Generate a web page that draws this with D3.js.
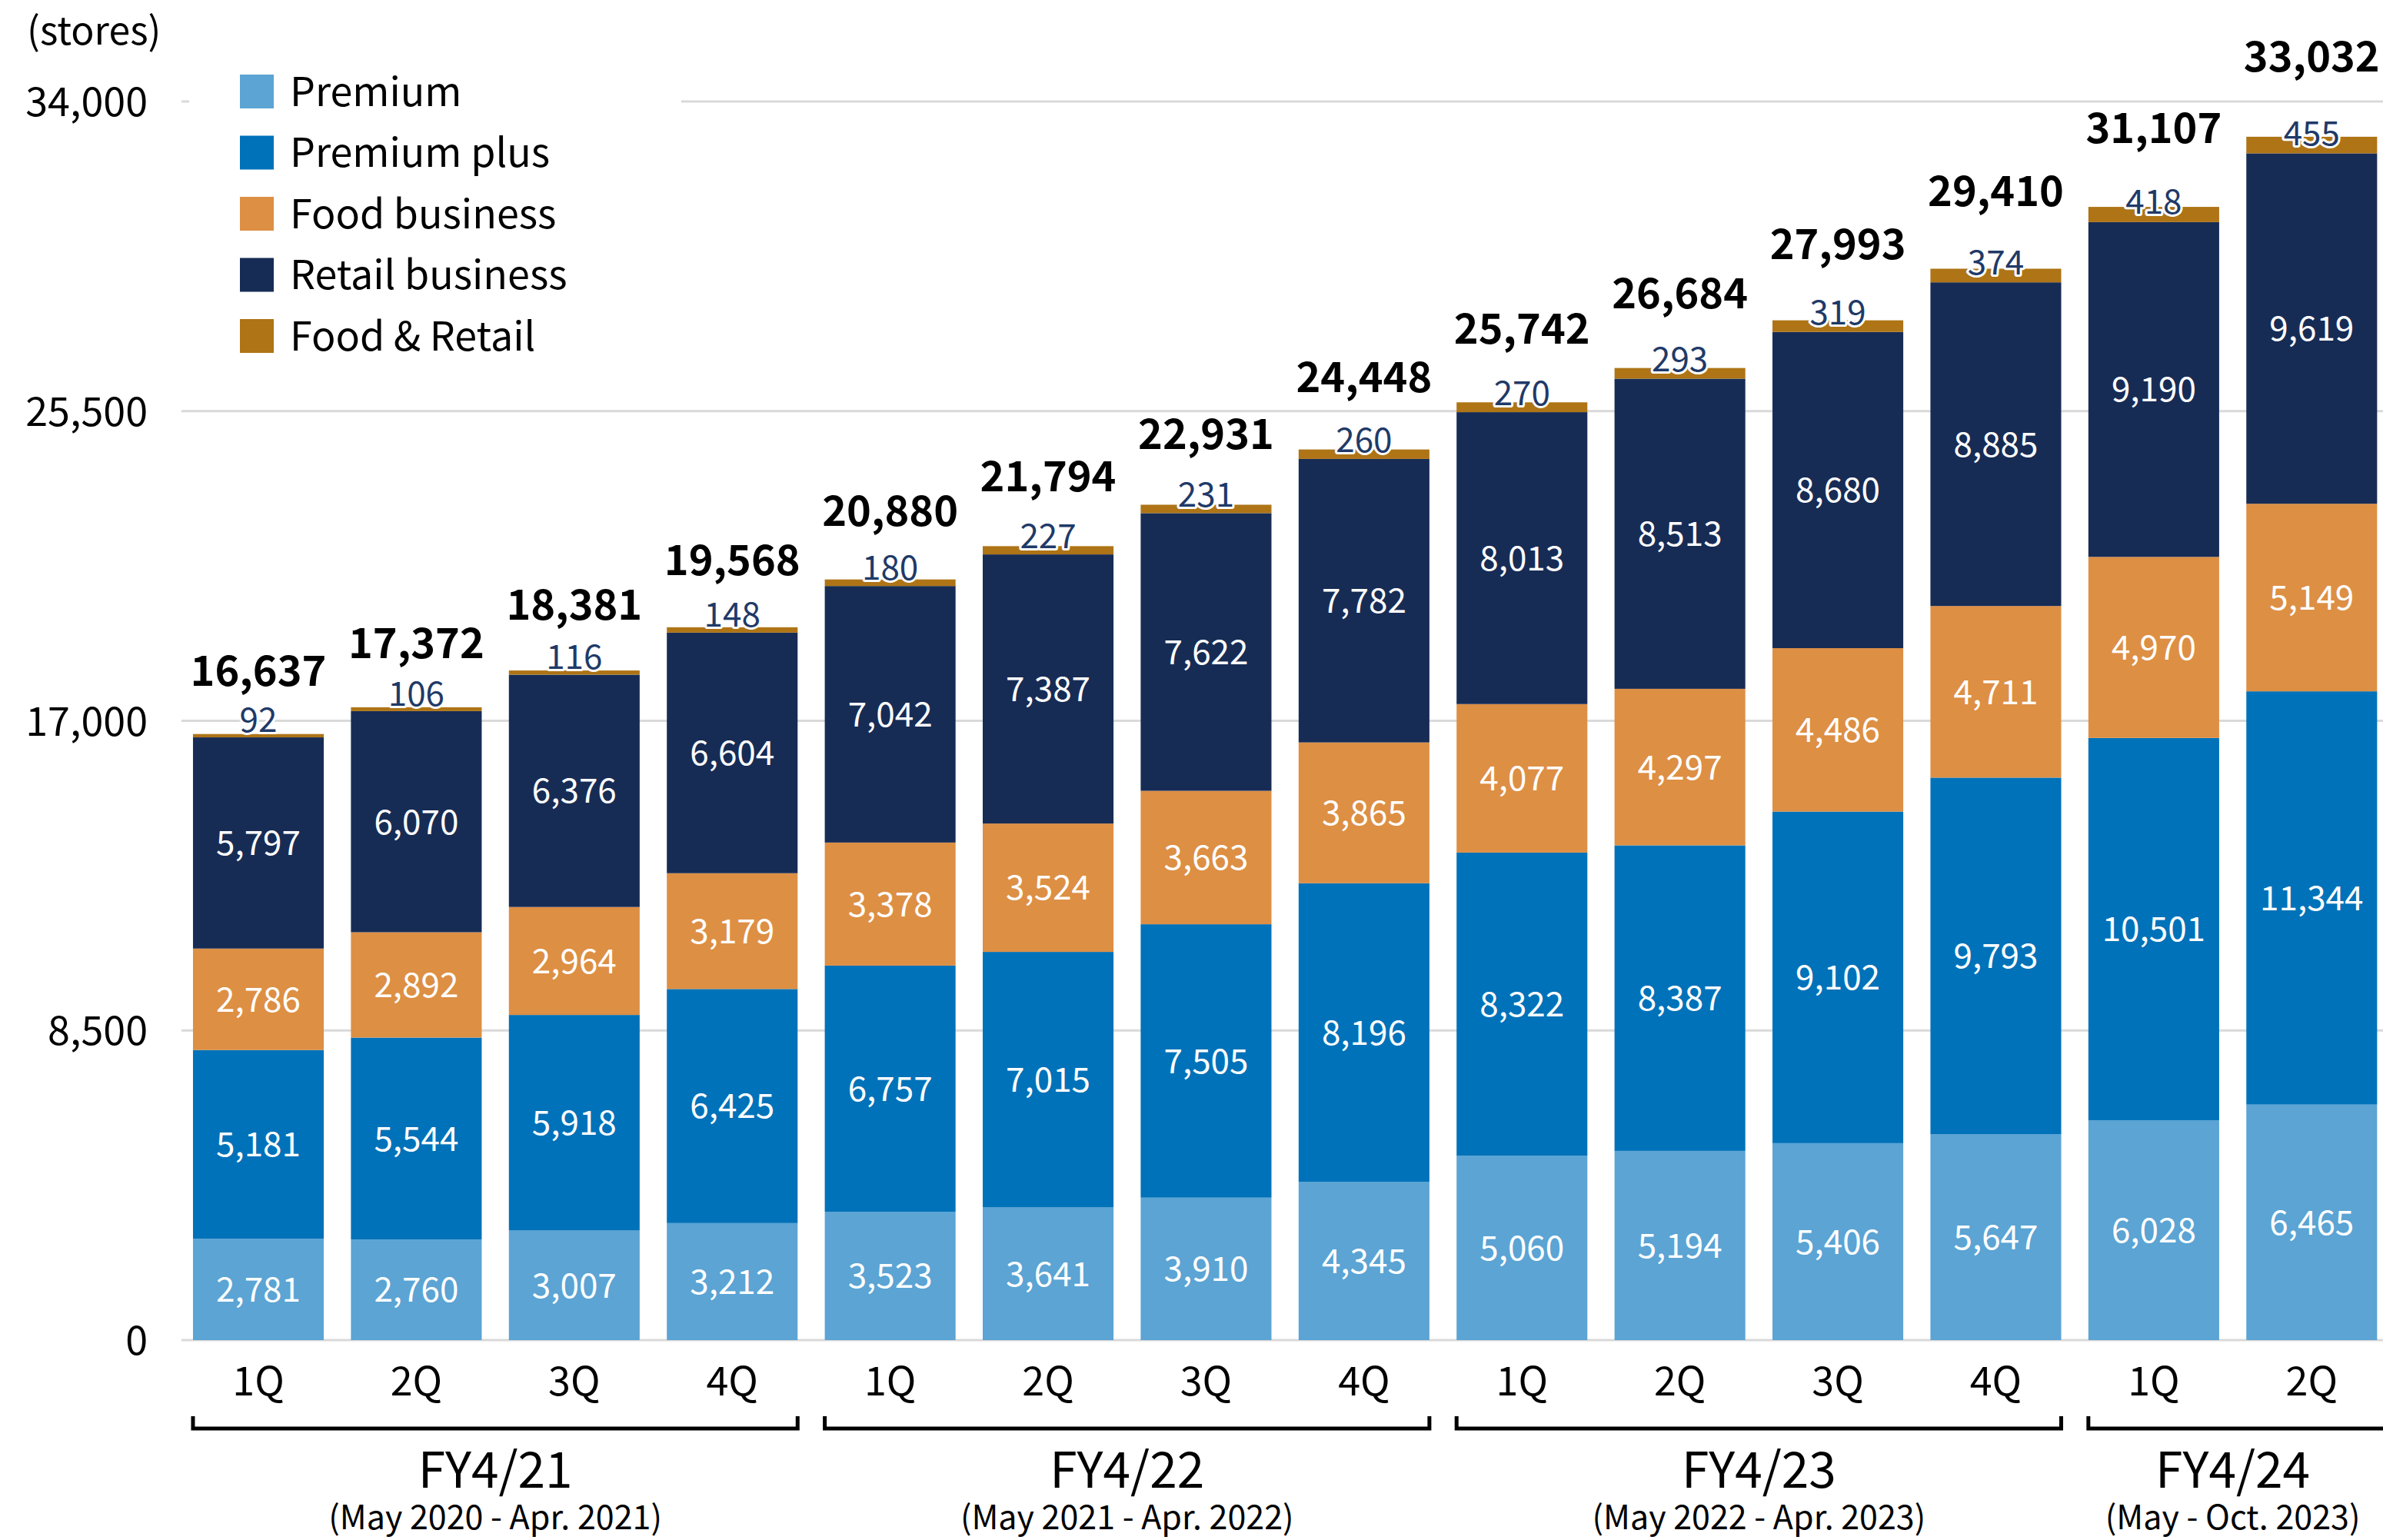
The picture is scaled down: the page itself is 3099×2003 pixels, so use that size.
<!DOCTYPE html>
<html>
<head>
<meta charset="utf-8">
<script src="https://cdn.jsdelivr.net/npm/d3@7/dist/d3.min.js"></script>
<style>
  html, body { margin: 0; padding: 0; background: #fff; }
  svg { display: block; font-family: "Noto Sans CJK JP", "Noto Sans", sans-serif; }
</style>
</head>
<body>
<svg id="chart" width="3099" height="2003"></svg>
<script>
// Store counts by quarter, stacked by membership / business type
const quarters = ["1Q","2Q","3Q","4Q","1Q","2Q","3Q","4Q","1Q","2Q","3Q","4Q","1Q","2Q"];
const premium      = [2781, 2760, 3007, 3212, 3523, 3641, 3910, 4345, 5060, 5194, 5406, 5647, 6028, 6465];
const premiumPlus  = [5181, 5544, 5918, 6425, 6757, 7015, 7505, 8196, 8322, 8387, 9102, 9793, 10501, 11344];
const foodBusiness = [2786, 2892, 2964, 3179, 3378, 3524, 3663, 3865, 4077, 4297, 4486, 4711, 4970, 5149];
const retailBusiness = [5797, 6070, 6376, 6604, 7042, 7387, 7622, 7782, 8013, 8513, 8680, 8885, 9190, 9619];
const foodAndRetail  = [92, 106, 116, 148, 180, 227, 231, 260, 270, 293, 319, 374, 418, 455];
const totals = [16637, 17372, 18381, 19568, 20880, 21794, 22931, 24448, 25742, 26684, 27993, 29410, 31107, 33032];

const seriesNames = ["Premium", "Premium plus", "Food business", "Retail business", "Food & Retail"];
const seriesValues = [premium, premiumPlus, foodBusiness, retailBusiness, foodAndRetail];
const seriesColors = ["#5ba4d4", "#0072b9", "#dd8f44", "#172c55", "#ae7416"];

const yTicks = [0, 8500, 17000, 25500, 34000];

const fiscalYears = [
  { label: "FY4/21", period: "(May 2020 - Apr. 2021)", first: 0, last: 3 },
  { label: "FY4/22", period: "(May 2021 - Apr. 2022)", first: 4, last: 7 },
  { label: "FY4/23", period: "(May 2022 - Apr. 2023)", first: 8, last: 11 },
  { label: "FY4/24", period: "(May - Oct. 2023)", first: 12, last: 13, open: true }
];

const svg = d3.select("#chart");
const W = 3099;

const rows = quarters.map((q, i) => {
  const r = { i };
  seriesNames.forEach((n, k) => r[n] = seriesValues[k][i]);
  return r;
});

const stacked = d3.stack().keys(seriesNames)(rows);

const x = d3.scaleBand()
  .domain(d3.range(quarters.length))
  .range([233.3, 3109])
  .paddingInner(0.172)
  .paddingOuter(0.086);

const y = d3.scaleLinear().domain([0, 34000]).range([1743, 132]);

// gridlines
svg.append("g")
  .selectAll("line")
  .data(yTicks)
  .join("line")
  .attr("x1", 236).attr("x2", W)
  .attr("y1", d => y(d)).attr("y2", d => y(d))
  .attr("stroke", "#d9d9d9")
  .attr("stroke-width", 3);

// y axis labels
const yAxis = d3.axisLeft(y).tickValues(yTicks).tickSize(0).tickPadding(0)
  .tickFormat(d3.format(","));
const yg = svg.append("g").attr("transform", "translate(192,0)").call(yAxis);
yg.select(".domain").remove();
yg.selectAll("text")
  .attr("font-size", 52)
  .attr("fill", "#000")
  .attr("font-family", "Noto Sans CJK JP")
  .attr("dy", "0.36em");

svg.append("text")
  .attr("x", 35).attr("y", 40).attr("dy", "0.36em")
  .attr("font-size", 50).attr("fill", "#000")
  .text("(stores)");

// legend box (white backing over the top gridline)
svg.append("rect")
  .attr("x", 246).attr("y", 80).attr("width", 640).attr("height", 395)
  .attr("fill", "#fff");

const legend = svg.append("g");
seriesNames.forEach((n, k) => {
  const cy = 119 + k * 79.5;
  legend.append("rect")
    .attr("x", 312).attr("y", cy - 22).attr("width", 44).attr("height", 44)
    .attr("fill", seriesColors[k]);
  legend.append("text")
    .attr("x", 377).attr("y", cy).attr("dy", "0.36em")
    .attr("font-size", 52).attr("fill", "#000")
    .text(n);
});

// stacked bars
const layers = svg.append("g").selectAll("g")
  .data(stacked)
  .join("g")
  .attr("fill", (d, k) => seriesColors[k]);

layers.selectAll("rect")
  .data(d => d)
  .join("rect")
  .attr("x", (d, i) => x(i))
  .attr("width", x.bandwidth())
  .attr("y", d => y(d[1]))
  .attr("height", d => y(d[0]) - y(d[1]));

const fmt = d3.format(",");

// segment labels for the four large segments
stacked.slice(0, 4).forEach(layer => {
  svg.append("g").selectAll("text")
    .data(layer)
    .join("text")
    .attr("x", (d, i) => x(i) + x.bandwidth() / 2)
    .attr("y", d => (y(d[0]) + y(d[1])) / 2)
    .attr("dy", "0.36em")
    .attr("text-anchor", "middle")
    .attr("font-size", 44)
    .attr("fill", "#fff")
    .text(d => fmt(d[1] - d[0]));
});

// Food & Retail labels just above the bar top
const topLayer = stacked[4];
svg.append("g").selectAll("text")
  .data(topLayer)
  .join("text")
  .attr("x", (d, i) => x(i) + x.bandwidth() / 2)
  .attr("y", d => y(d[1]) - 22 + 0.78 * (y(d[0]) - y(d[1])))
  .attr("dy", "0.36em")
  .attr("text-anchor", "middle")
  .attr("font-size", 44)
  .attr("fill", "#1f3a68")
  .attr("stroke", "#fff")
  .attr("stroke-width", 6)
  .attr("stroke-linejoin", "round")
  .attr("paint-order", "stroke")
  .text(d => fmt(d[1] - d[0]));

// totals
svg.append("g").selectAll("text")
  .data(totals)
  .join("text")
  .attr("x", (d, i) => x(i) + x.bandwidth() / 2)
  .attr("y", (d, i) => y(d) - 82 - 22 * i / 13)
  .attr("dy", "0.36em")
  .attr("text-anchor", "middle")
  .attr("font-size", 54)
  .attr("font-weight", "bold")
  .attr("fill", "#000")
  .text(d => fmt(d));

// quarter labels
svg.append("g").selectAll("text")
  .data(quarters)
  .join("text")
  .attr("x", (d, i) => x(i) + x.bandwidth() / 2)
  .attr("y", 1796)
  .attr("dy", "0.36em")
  .attr("text-anchor", "middle")
  .attr("font-size", 52)
  .attr("fill", "#000")
  .text(d => d);

// fiscal year brackets
const by = 1858, tickH = 16;
fiscalYears.forEach(fy => {
  const x0 = x(fy.first);
  const x1 = fy.open ? W + 10 : x(fy.last) + x.bandwidth();
  const p = d3.path();
  p.moveTo(x0, by - tickH);
  p.lineTo(x0, by);
  p.lineTo(x1, by);
  if (!fy.open) p.lineTo(x1, by - tickH);
  svg.append("path")
    .attr("d", p.toString())
    .attr("fill", "none")
    .attr("stroke", "#000")
    .attr("stroke-width", 5);
  const cx = (x(fy.first) + x(fy.last) + x.bandwidth()) / 2;
  svg.append("text")
    .attr("x", cx).attr("y", 1912).attr("dy", "0.36em")
    .attr("text-anchor", "middle")
    .attr("font-size", 64).attr("fill", "#000")
    .text(fy.label);
  svg.append("text")
    .attr("x", cx).attr("y", 1974).attr("dy", "0.36em")
    .attr("text-anchor", "middle")
    .attr("font-size", 43).attr("fill", "#000")
    .text(fy.period);
});
</script>
</body>
</html>
